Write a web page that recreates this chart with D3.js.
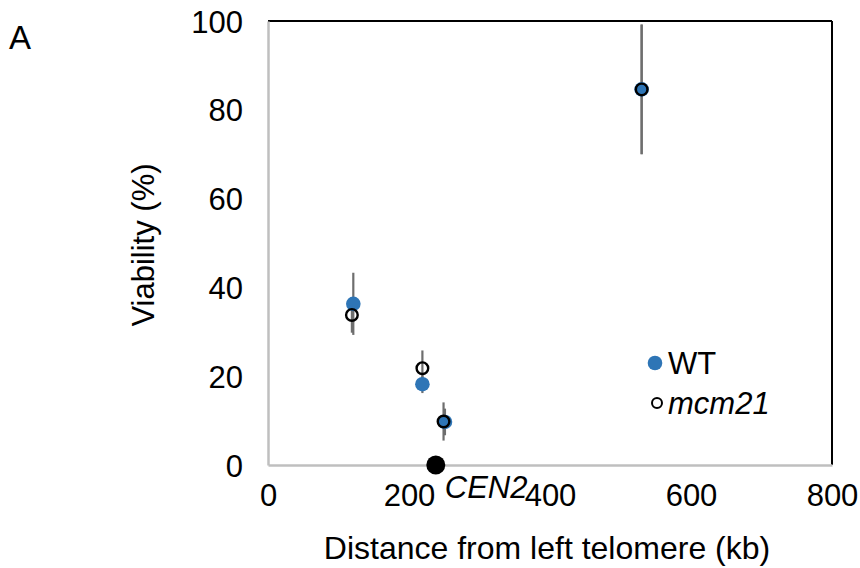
<!DOCTYPE html>
<html>
<head>
<meta charset="utf-8">
<script src="https://cdn.jsdelivr.net/npm/d3@7"></script>
<style>
  body { margin: 0; background: #fff; }
  text { font-family: "Liberation Sans", Arial, sans-serif; }
</style>
</head>
<body>
<div id="chart"></div>
<script>
// data
var distance = [121, 219, 251, 530];          // kb from left telomere
var wtViability = [36.3, 18.2, 9.7, 84.6];
var wtError = [7, 2, 3, 14.6];
var mcmDistance = [119, 219, 249, 530];
var mcmViability = [33.8, 21.8, 9.8, 84.6];
var mcmError = [4, 4, 4.3, 14.6];
var centromere = [{ name: "CEN2", kb: 238 }];
var xTicks = [0, 200, 400, 600, 800];
var yTicks = [0, 20, 40, 60, 80, 100];

var width = 860, height = 568;
var margin = { left: 268, right: 28, top: 21, bottom: 103 };
var fs = "31px";

var svg = d3.select("#chart").append("svg")
  .attr("width", width)
  .attr("height", height);

var x = d3.scaleLinear().domain([0, 800]).range([margin.left, width - margin.right]);
var y = d3.scaleLinear().domain([0, 100]).range([height - margin.bottom, margin.top]);

// frame: top and right black, axes gray
svg.append("line").attr("x1", x(0)).attr("x2", x(800)).attr("y1", y(100)).attr("y2", y(100))
  .attr("stroke", "#000").attr("stroke-width", 2);
svg.append("line").attr("x1", x(800)).attr("x2", x(800)).attr("y1", y(100)).attr("y2", y(0))
  .attr("stroke", "#000").attr("stroke-width", 2);

var xAxis = svg.append("g")
  .attr("transform", "translate(0," + y(0) + ")")
  .call(d3.axisBottom(x).tickValues(xTicks).tickSize(0).tickPadding(19));
var yAxis = svg.append("g")
  .attr("transform", "translate(" + x(0) + ",0)")
  .call(d3.axisLeft(y).tickValues(yTicks).tickSize(0).tickPadding(25));

[xAxis, yAxis].forEach(function(g) {
  g.select(".domain").attr("stroke", "#bfbfbf").attr("stroke-width", 2.5);
  g.selectAll("text").style("font-size", fs).attr("fill", "#000")
    .style("font-family", "'Liberation Sans', Arial, sans-serif");
});
xAxis.selectAll("text").attr("dy", "0.71em");
yAxis.selectAll("text").attr("dy", "0.36em");

// axis titles
svg.append("text")
  .attr("x", x(400) - 3).attr("y", 559)
  .attr("text-anchor", "middle")
  .style("font-size", "32px")
  .text("Distance from left telomere (kb)");
svg.append("text")
  .attr("transform", "translate(154," + (y(50) + 2) + ") rotate(-90)")
  .attr("text-anchor", "middle")
  .style("font-size", "31px")
  .text("Viability (%)");

svg.append("text")
  .attr("x", 9).attr("y", 49)
  .style("font-size", "33px")
  .text("A");

// error bars
var errColor = "#6e6e6e";
svg.append("g").selectAll("line")
  .data(distance)
  .enter().append("line")
  .attr("x1", d => x(d)).attr("x2", d => x(d))
  .attr("y1", (d, i) => y(wtViability[i] + wtError[i]))
  .attr("y2", (d, i) => y(wtViability[i] - wtError[i]))
  .attr("stroke", errColor).attr("stroke-width", 2.2);
svg.append("g").selectAll("line")
  .data(mcmDistance)
  .enter().append("line")
  .attr("x1", d => x(d)).attr("x2", d => x(d))
  .attr("y1", (d, i) => y(mcmViability[i] + mcmError[i]))
  .attr("y2", (d, i) => y(mcmViability[i] - mcmError[i]))
  .attr("stroke", errColor).attr("stroke-width", 2.2);

// WT points
svg.append("g").selectAll("circle")
  .data(distance)
  .enter().append("circle")
  .attr("cx", d => x(d))
  .attr("cy", (d, i) => y(wtViability[i]))
  .attr("r", 7.3)
  .attr("fill", "#2e75b6");

// mcm21 points
svg.append("g").selectAll("circle")
  .data(mcmDistance)
  .enter().append("circle")
  .attr("cx", d => x(d))
  .attr("cy", (d, i) => y(mcmViability[i]))
  .attr("r", 5.8)
  .attr("fill", "none")
  .attr("stroke", "#000")
  .attr("stroke-width", 2.4);

// centromere marker
svg.append("g").selectAll("circle")
  .data(centromere)
  .enter().append("circle")
  .attr("cx", d => x(d.kb)).attr("cy", y(0))
  .attr("r", 9.5).attr("fill", "#000");
svg.append("g").selectAll("text")
  .data(centromere)
  .enter().append("text")
  .attr("x", d => x(d.kb) + 9).attr("y", y(0) + 33)
  .style("font-size", fs).style("font-style", "italic")
  .text(d => d.name);

// legend
var legend = svg.append("g");
legend.append("circle").attr("cx", 655).attr("cy", 363).attr("r", 7.3).attr("fill", "#2e75b6");
legend.append("text").attr("x", 668).attr("y", 374).style("font-size", fs).text("WT");
legend.append("circle").attr("cx", 657).attr("cy", 403).attr("r", 5).attr("fill", "none")
  .attr("stroke", "#000").attr("stroke-width", 2);
legend.append("text").attr("x", 668).attr("y", 414).style("font-size", fs)
  .style("font-style", "italic").text("mcm21");
</script>
</body>
</html>
